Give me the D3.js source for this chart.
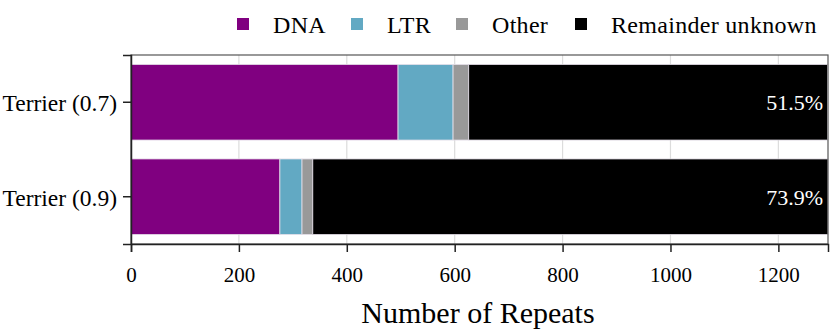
<!DOCTYPE html>
<html>
<head>
<meta charset="utf-8">
<script src="https://cdn.jsdelivr.net/npm/d3@7"></script>
<style>
  body { margin: 0; background: #fff; }
  svg text { font-family: "Liberation Serif", "DejaVu Serif", serif; }
</style>
</head>
<body>
<svg></svg>
<script>
let categories = ["Terrier (0.7)", "Terrier (0.9)"];
let seriesNames = ["DNA", "LTR", "Other", "Remainder unknown"];
let dnaValues = [495, 276];
let ltrValues = [102, 41];
let otherValues = [29, 20];
let remainderValues = [665, 955];
let xTicks = [0, 200, 400, 600, 800, 1000, 1200];
let colors = ["#800080", "#62a9c3", "#999999", "#000000"];

drawChart();

function drawChart() {
    let svgWidth = 830, svgHeight = 332;
    let margin = { top: 55, right: 2, bottom: 88, left: 131 };
    let width = svgWidth - margin.left - margin.right;
    let height = svgHeight - margin.top - margin.bottom;
    let serif = "'Liberation Serif', 'DejaVu Serif', serif";

    let svg = d3.select("svg")
        .attr("width", svgWidth)
        .attr("height", svgHeight);

    let rows = categories.map(function (c, i) {
        return { cat: c, DNA: dnaValues[i], LTR: ltrValues[i], Other: otherValues[i], "Remainder unknown": remainderValues[i] };
    });
    let stacked = d3.stack().keys(seriesNames)(rows);
    let maxTotal = d3.max(rows, function (d) { return d3.sum(seriesNames, function (k) { return d[k]; }); });

    let x = d3.scaleLinear().domain([0, maxTotal]).range([0, width]);
    let y = d3.scaleBand().domain(categories).range([0, height])
        .paddingInner(0.2).paddingOuter(0.1);

    let g = svg.append("g")
        .attr("transform", "translate(" + margin.left + "," + margin.top + ")");

    // grid
    g.append("g").selectAll("line")
        .data(xTicks)
        .join("line")
        .attr("x1", function (d) { return x(d); })
        .attr("x2", function (d) { return x(d); })
        .attr("y1", 0)
        .attr("y2", height)
        .attr("stroke", "#dcdcdc")
        .attr("stroke-width", 1.2);

    // bars
    g.append("g").selectAll("g")
        .data(stacked)
        .join("g")
        .attr("fill", function (d, i) { return colors[i]; })
        .selectAll("rect")
        .data(function (d) { return d; })
        .join("rect")
        .attr("x", function (d) { return x(d[0]); })
        .attr("width", function (d) { return x(d[1]) - x(d[0]); })
        .attr("y", function (d) { return y(d.data.cat); })
        .attr("height", y.bandwidth())
        .attr("stroke", "#e6e0ea")
        .attr("stroke-width", 0.8);

    // percent labels
    g.append("g").selectAll("text")
        .data(rows)
        .join("text")
        .attr("x", width - 5)
        .attr("y", function (d) { return y(d.cat) + y.bandwidth() / 2 + 8; })
        .attr("text-anchor", "end")
        .attr("fill", "#fff")
        .attr("font-size", 22)
        .text(function (d) {
            let total = d3.sum(seriesNames, function (k) { return d[k]; });
            return (d["Remainder unknown"] / total * 100).toFixed(1) + "%";
        });

    // frame
    g.append("rect")
        .attr("x", 0).attr("y", 0)
        .attr("width", width).attr("height", height)
        .attr("fill", "none")
        .attr("stroke", "#555")
        .attr("stroke-width", 1.2);

    let xAxis = g.append("g")
        .attr("transform", "translate(0," + height + ")")
        .call(d3.axisBottom(x).tickValues(xTicks).tickSize(8).tickPadding(15).tickFormat(d3.format("d")));
    xAxis.attr("font-family", serif);
    xAxis.selectAll("text").attr("font-size", 21).attr("fill", "#000");
    xAxis.selectAll("line").attr("stroke", "#222").attr("stroke-width", 1.5);
    xAxis.select(".domain").attr("stroke", "#222").attr("stroke-width", 1.5);

    let yAxis = g.append("g")
        .call(d3.axisLeft(y).tickSize(8).tickPadding(6));
    yAxis.attr("font-family", serif);
    yAxis.selectAll("text").attr("font-size", 23.5).attr("fill", "#000").attr("dy", "0.38em");
    yAxis.selectAll("line").attr("stroke", "#222").attr("stroke-width", 1.5);
    yAxis.select(".domain").attr("stroke", "#222").attr("stroke-width", 1.5);

    svg.append("text")
        .attr("x", 478)
        .attr("y", 323)
        .attr("text-anchor", "middle")
        .attr("font-size", 30)
        .text("Number of Repeats");

    // legend
    let legendX = [237, 351, 456, 575];
    let legend = svg.append("g").selectAll("g")
        .data(seriesNames)
        .join("g")
        .attr("transform", function (d, i) { return "translate(" + legendX[i] + ",18)"; });
    legend.append("rect")
        .attr("width", 12).attr("height", 12)
        .attr("fill", function (d, i) { return colors[i]; });
    legend.append("text")
        .attr("x", 36)
        .attr("y", 15)
        .attr("font-size", 24)
        .attr("letter-spacing", 0.3)
        .text(function (d) { return d; });
}
</script>
</body>
</html>
